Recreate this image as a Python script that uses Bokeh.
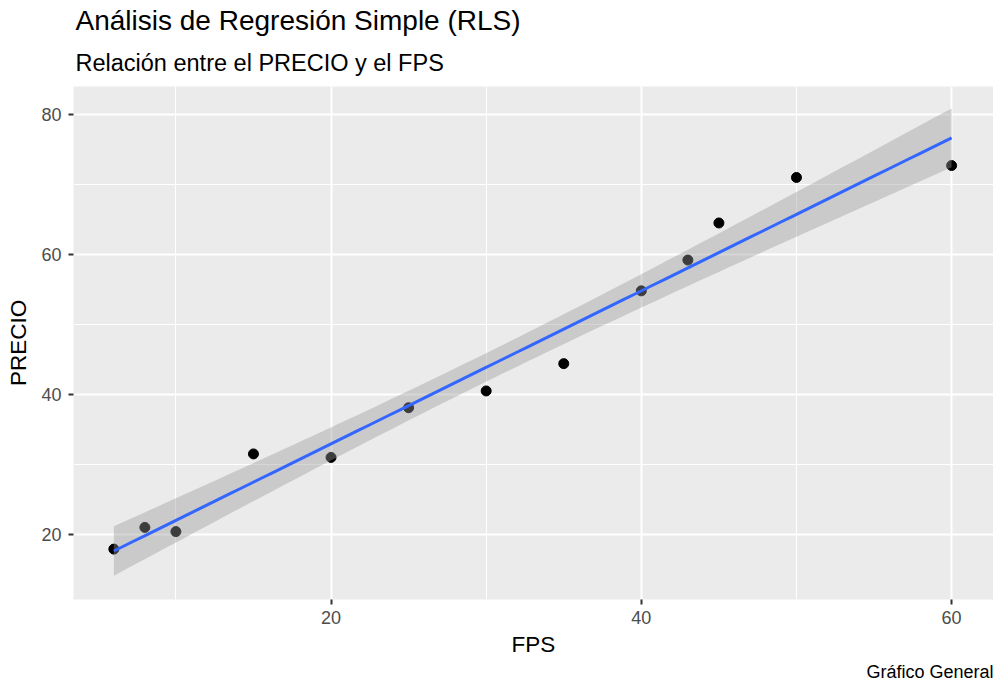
import numpy as np
from bokeh.plotting import figure
from bokeh.models import FixedTicker, Range1d, ColumnDataSource, Title
from bokeh.embed import file_html
from bokeh.resources import INLINE

# ---- data ----
fps = [6, 8, 10, 15, 20, 25, 30, 35, 40, 43, 45, 50, 60]
precio = [17.9, 21.0, 20.4, 31.5, 31.0, 38.1, 40.5, 44.4, 54.8, 59.2, 64.5, 71.0, 72.7]
x_ticks = [20, 40, 60]
x_minor = [10, 30, 50]
y_ticks = [20, 40, 60, 80]
y_minor = [30, 50, 70]
title_text = "Análisis de Regresión Simple (RLS)"
subtitle_text = "Relación entre el PRECIO y el FPS"
caption_text = "Gráfico General"
x_label = "FPS"
y_label = "PRECIO"

# ---- linear model + 95% confidence band (like geom_smooth(method="lm")) ----
x = np.array(fps, dtype=float)
y = np.array(precio, dtype=float)
n = len(x)
b1, b0 = np.polyfit(x, y, 1)
resid = y - (b0 + b1 * x)
s = np.sqrt(np.sum(resid ** 2) / (n - 2))
t_crit = 2.201  # t(0.975, df=11)
xs = np.linspace(x.min(), x.max(), 80)
ys = b0 + b1 * xs
se = s * np.sqrt(1.0 / n + (xs - x.mean()) ** 2 / np.sum((x - x.mean()) ** 2))
lower = ys - t_crit * se
upper = ys + t_crit * se

FONT = "Liberation Sans"

p = figure(frame_width=920, frame_height=513, output_backend="svg", toolbar_location=None,
           x_range=Range1d(3.4, 62.7), y_range=Range1d(10.7, 84.0),
           min_border_left=73, min_border_right=0, min_border_top=86, min_border_bottom=10)
p.background_fill_color = "#EBEBEB"
p.border_fill_color = "white"
p.outline_line_color = None

for ax, ticks, minor in ((p.xaxis[0], x_ticks, x_minor), (p.yaxis[0], y_ticks, y_minor)):
    ax.ticker = FixedTicker(ticks=ticks, minor_ticks=minor)
    ax.axis_line_color = None
    ax.major_tick_line_color = "#333333"
    ax.major_tick_line_width = 2
    ax.major_tick_out = 5
    ax.major_tick_in = 0
    ax.minor_tick_line_color = None
    ax.major_label_text_font = FONT
    ax.major_label_text_font_size = "18px"
    ax.major_label_text_color = "#4D4D4D"
    ax.axis_label_text_font = FONT
    ax.axis_label_text_font_size = "22.5px"
    ax.axis_label_text_font_style = "normal"
    ax.axis_label_text_color = "black"

p.xaxis.axis_label = x_label
p.yaxis.axis_label = y_label
p.xaxis.major_label_standoff = 6
p.yaxis.major_label_standoff = 7
p.xaxis.axis_label_standoff = 5
p.yaxis.axis_label_standoff = 7

for g in (p.xgrid[0], p.ygrid[0]):
    g.grid_line_color = "white"
    g.grid_line_width = 2
    g.minor_grid_line_color = "white"
    g.minor_grid_line_width = 1

p.scatter(fps, precio, size=10, color="black")
band = ColumnDataSource(dict(x=xs, lo=lower, hi=upper, y=ys))
p.varea(x="x", y1="lo", y2="hi", source=band, fill_color="#999999", fill_alpha=0.4)
p.line(x="x", y="y", source=band, line_color="#3366FF", line_width=3)

p.add_layout(Title(text=subtitle_text, text_font=FONT, text_font_size="23.5px",
                   text_font_style="normal", text_color="black", align="left",
                   offset=2, standoff=21), "above")
p.add_layout(Title(text=title_text, text_font=FONT, text_font_size="28px",
                   text_font_style="normal", text_color="black", align="left",
                   offset=2, standoff=4), "above")
p.add_layout(Title(text=caption_text, text_font=FONT, text_font_size="18px",
                   text_font_style="normal", text_color="black", align="right",
                   offset=0, standoff=0, text_line_height=0.8), "below")

open("out.html", "w").write(file_html(p, INLINE))
